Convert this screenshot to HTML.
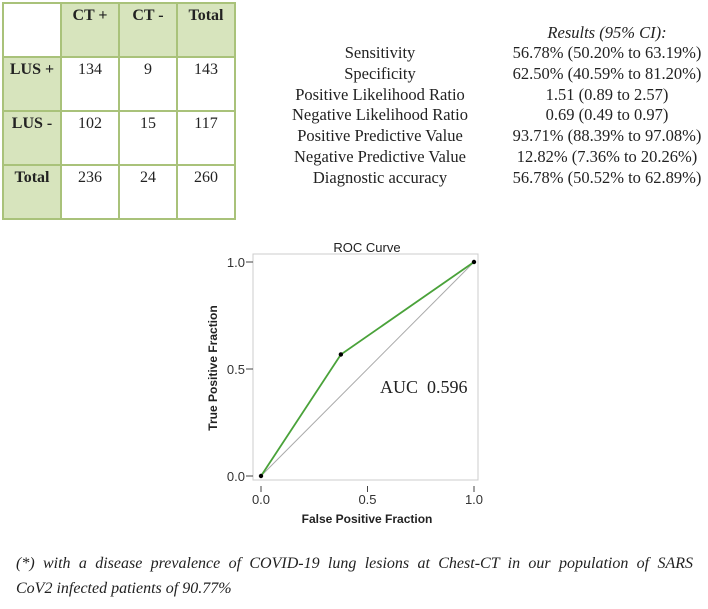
<!DOCTYPE html>
<html><head><meta charset="utf-8"><style>
body{margin:0;width:708px;height:609px;background:#fff;position:relative;overflow:hidden;font-family:"Liberation Serif",serif;color:#222}
table{position:absolute;left:2px;top:2px;border-collapse:collapse}
td{border:2px solid #a9c27a;width:56px;height:49px;vertical-align:top;text-align:center;font-size:16px;padding:3px 0 0 0}
.g{background:#d7e4bd;font-weight:bold}
.res{position:absolute;font-size:16.5px;white-space:nowrap}
.fl{position:absolute;left:16px;width:677px;font-style:italic;font-size:16px;white-space:nowrap}
.j{text-align:justify;text-align-last:justify;white-space:normal}
</style></head><body>
<table>
<tr><td></td><td class="g">CT +</td><td class="g">CT -</td><td class="g">Total</td></tr>
<tr><td class="g">LUS +</td><td>134</td><td>9</td><td>143</td></tr>
<tr><td class="g">LUS -</td><td>102</td><td>15</td><td>117</td></tr>
<tr><td class="g">Total</td><td>236</td><td>24</td><td>260</td></tr>
</table>
<div id="rp"></div>
<svg width="708" height="609" style="position:absolute;left:0;top:0" id="chart">
<text x="367" y="252" text-anchor="middle" font-family="Liberation Sans" font-size="13" fill="#222">ROC Curve</text>
<rect x="253" y="254" width="225" height="226" fill="none" stroke="#ccc" stroke-width="1"/>
<text transform="translate(217,368) rotate(-90)" text-anchor="middle" font-family="Liberation Sans" font-weight="bold" font-size="12" fill="#222">True Positive Fraction</text>
<text x="367" y="523" text-anchor="middle" font-family="Liberation Sans" font-weight="bold" font-size="12" fill="#222">False Positive Fraction</text>
<text x="380" y="393" font-family="Liberation Serif" font-size="18" fill="#222" xml:space="preserve">AUC  0.596</text>
</svg>
<div>
<div class="fl j" style="top:555px">(*) with a disease prevalence of COVID-19 lung lesions at Chest-CT in our population of SARS</div>
<div class="fl" style="top:580px">CoV2 infected patients of 90.77%</div>
</div>
<script>
const labels=["Sensitivity","Specificity","Positive Likelihood Ratio","Negative Likelihood Ratio","Positive Predictive Value","Negative Predictive Value","Diagnostic accuracy"];
const values=["56.78% (50.20% to 63.19%)","62.50% (40.59% to 81.20%)","1.51 (0.89 to 2.57)","0.69 (0.49 to 0.97)","93.71% (88.39% to 97.08%)","12.82% (7.36% to 20.26%)","56.78% (50.52% to 62.89%)"];
const fpr=[0,0.375,1];
const tpr=[0,0.5678,1];
const ticks=[0,0.5,1];
const tickLabels=["0.0","0.5","1.0"];
const rp=document.getElementById('rp');
function addDiv(txt,cx,cy,italic,name){const d=document.createElement('div');d.className='res';d.textContent=txt;d.style.left=(cx-200)+'px';d.style.width='400px';d.style.textAlign='center';d.style.top=(cy-10)+'px';if(italic)d.style.fontStyle='italic';


rp.appendChild(d);}
addDiv("Results (95% CI):",607,33,true,'results-header');
labels.forEach((l,i)=>{addDiv(l,380,53+i*20.8,false,'metric-label');addDiv(values[i],607,53+i*20.8,false,'metric-value');});
const NS='http://www.w3.org/2000/svg',svg=document.getElementById('chart');
const X=v=>261+v*213, Y=v=>476-v*214;
function el(t,a){const e=document.createElementNS(NS,t);for(const k in a)e.setAttribute(k,a[k]);svg.appendChild(e);return e;}
let e=el('line',{x1:X(0),y1:Y(0),x2:X(1),y2:Y(1),stroke:'#aaa','stroke-width':1});


e=el('polyline',{points:fpr.map((v,i)=>X(v)+','+Y(tpr[i])).join(' '),fill:'none',stroke:'#4aa23a','stroke-width':1.8});


fpr.forEach((v,i)=>{const c=el('circle',{cx:X(v),cy:Y(tpr[i]),r:2.2,fill:'#000'});

});
ticks.forEach((t,i)=>{
let a=el('line',{x1:246,x2:253,y1:Y(t),y2:Y(t),stroke:'#444'});


let b=el('text',{x:245,y:Y(t)+5,'text-anchor':'end','font-family':'Liberation Sans','font-size':13,fill:'#333'});b.textContent=tickLabels[i];


a=el('line',{x1:X(t),x2:X(t),y1:486,y2:492,stroke:'#444'});


b=el('text',{x:X(t),y:504,'text-anchor':'middle','font-family':'Liberation Sans','font-size':13,fill:'#333'});b.textContent=tickLabels[i];


});
</script>
</body></html>
